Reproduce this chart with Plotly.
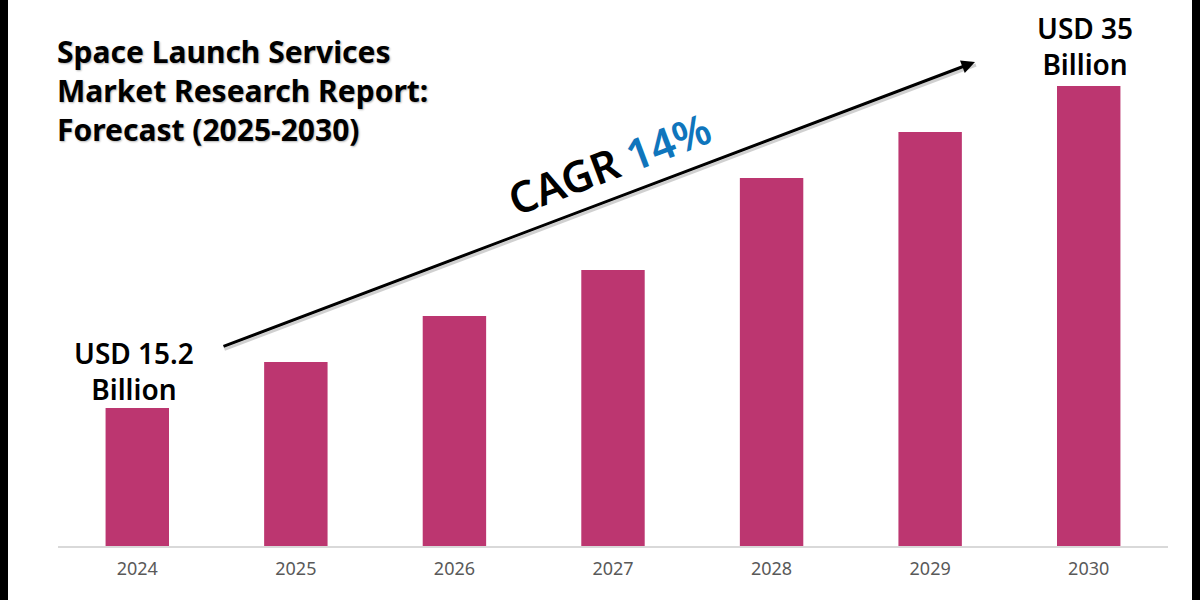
import plotly.graph_objects as go

# bar heights (the chart is not drawn to the USD scale)
years = ['2024', '2025', '2026', '2027', '2028', '2029', '2030']
bar_heights = [3, 4, 5, 6, 8, 9, 10]
title_lines = ['Space Launch Services', 'Market Research Report:', 'Forecast (2025-2030)']
start_label = ['USD 15.2', 'Billion']
end_label = ['USD 35', 'Billion']

W, H = 1200, 600
L, R, T, B = 58, 32, 86, 54
plot_w = W - L - R
plot_h = H - T - B
FONT = 'Noto Sans'


# pixel position on the page -> paper coordinates
def px_x(x):
    return (x - L) / plot_w


def px_y(y):
    return (H - B - y) / plot_h


fig = go.Figure(go.Bar(x=years, y=bar_heights, width=0.4, marker=dict(color='#BC3670', line_width=0),
                       hoverinfo='x'))

fig.update_layout(
    width=W, height=H,
    margin=dict(l=L, r=R, t=T, b=B),
    paper_bgcolor='white', plot_bgcolor='white',
    showlegend=False,
    font=dict(family=FONT),
    xaxis=dict(type='category', showgrid=False, showline=True, linecolor='#D9D9D9', linewidth=2,
               ticks='', ticklabelstandoff=5, tickfont=dict(size=18, color='#595959', family=FONT)),
    yaxis=dict(range=[0, 10], visible=False),
)

# black strips down both sides of the image
for x0, x1 in [(0, 8), (1192, 1200)]:
    fig.add_shape(type='rect', xref='paper', yref='paper', x0=px_x(x0), x1=px_x(x1), y0=px_y(H), y1=px_y(0),
                  fillcolor='black', line_width=0)

# title block
fig.add_annotation(xref='paper', yref='paper', x=px_x(55), y=px_y(29), xanchor='left', yanchor='top',
                   text='<br>'.join(title_lines), align='left', showarrow=False,
                   font=dict(size=30, color='black', family=FONT, weight='bold',
                             shadow='1px 1px 2px rgba(0,0,0,0.3)'))

# value labels above first and last bar (category axis positions are indexes)
fig.add_annotation(x=0, y=bar_heights[0], yanchor='bottom', xshift=-3, yshift=-2, text='<br>'.join(start_label),
                   showarrow=False, font=dict(size=28, color='black', family=FONT, weight=600))
fig.add_annotation(x=len(years) - 1, y=bar_heights[-1], yanchor='bottom', xshift=-4, yshift=1,
                   text='<br>'.join(end_label),
                   showarrow=False, font=dict(size=28, color='black', family=FONT, weight=600))

# growth arrow, shadow first
fig.add_annotation(xref='paper', yref='paper', x=px_x(976), y=px_y(65), ax=222 - 975, ay=347 - 62, text='',
                   showarrow=True, arrowhead=0, arrowwidth=3, arrowcolor='rgba(0,0,0,0.18)')
fig.add_annotation(xref='paper', yref='paper', x=px_x(975), y=px_y(62), ax=222 - 975, ay=347 - 62, text='',
                   showarrow=True, arrowhead=2, arrowsize=0.9, arrowwidth=3, arrowcolor='black')

fig.add_annotation(xref='paper', yref='paper', x=px_x(609), y=px_y(163), xanchor='center', yanchor='middle',
                   textangle=-20.7, showarrow=False,
                   text='CAGR <span style="color:#0F75BC">14%</span>',
                   font=dict(size=43, color='black', family=FONT, weight=600))

fig.write_html('out.html', config=dict(displayModeBar=False), post_script="document.body.style.margin='0';")
